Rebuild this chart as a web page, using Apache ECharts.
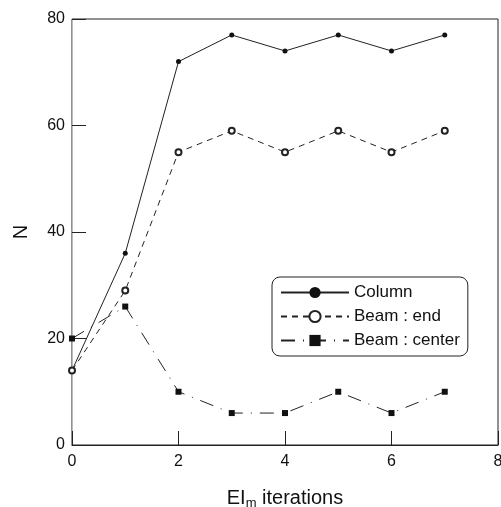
<!DOCTYPE html>
<html><head><meta charset="utf-8">
<script src="https://cdn.jsdelivr.net/npm/echarts@6/dist/echarts.min.js"></script>
<style>html,body{margin:0;padding:0;background:#fff}#c{width:501px;height:507px}</style>
</head><body><div id="c"></div>
<script>
const iterations = [0, 1, 2, 3, 4, 5, 6, 7];
const column = [14, 36, 72, 77, 74, 77, 74, 77];
const beamEnd = [14, 29, 55, 59, 55, 59, 55, 59];
const beamCenter = [20, 26, 10, 6, 6, 10, 6, 10];
const xTicks = [0, 2, 4, 6, 8];
const yTicks = [0, 20, 40, 60, 80];

const pair = (arr) => iterations.map((x, i) => [x, arr[i]]);
const font = 'Liberation Sans, Arial, sans-serif';
const chart = echarts.init(document.getElementById('c'));
chart.setOption({
  animation: false,
  backgroundColor: '#fff',
  grid: { left: 72, right: 3, top: 19, bottom: 62, outerBoundsMode: 'none', containLabel: false, show: true, borderColor: '#222', borderWidth: 1 },
  xAxis: {
    type: 'value', min: 0, max: 8, interval: 2,
    name: '{a|EI}{s|m}{a| iterations}', nameLocation: 'middle', nameGap: 42,
    nameTextStyle: { rich: { a: { fontFamily: font, fontSize: 20, color: '#111' }, s: { fontFamily: font, fontSize: 13, color: '#111', verticalAlign: 'bottom', padding: [10, 0, 0, 0] } } },
    axisLine: { lineStyle: { color: '#222' } },
    axisTick: { inside: true, length: 14, lineStyle: { color: '#222' } },
    splitLine: { show: false },
    axisLabel: { fontFamily: font, fontSize: 16, color: '#111', margin: 9, formatter: v => xTicks.includes(v) ? String(v) : '' }
  },
  yAxis: {
    type: 'value', min: 0, max: 80, interval: 20,
    name: 'N', nameLocation: 'middle', nameGap: 41, nameRotate: 90,
    nameTextStyle: { fontFamily: font, fontSize: 20, color: '#111' },
    axisLine: { show: true, lineStyle: { color: '#bbb' } },
    axisTick: { inside: true, length: 14, lineStyle: { color: '#222' } },
    splitLine: { show: false },
    axisLabel: { fontFamily: font, fontSize: 16, color: '#111', margin: 7, formatter: v => yTicks.includes(v) ? String(v) : '' }
  },
  legend: {
    orient: 'vertical', left: 272, top: 277, width: 199,
    backgroundColor: '#fff', borderColor: '#222', borderWidth: 1, borderRadius: 8,
    padding: [7, 8, 7, 8], itemGap: 7, itemWidth: 68, itemHeight: 14,
    textStyle: { fontFamily: font, fontSize: 17, color: '#111' },
    data: ['Column', 'Beam : end', 'Beam : center']
  },
  series: [
    { name: 'Column', type: 'line', data: pair(column), symbol: 'circle', symbolSize: 5,
      itemStyle: { color: '#111' }, lineStyle: { color: '#222', width: 1, type: 'solid' } },
    { name: 'Beam : end', type: 'line', data: pair(beamEnd), symbol: 'emptyCircle', symbolSize: 6,
      itemStyle: { color: '#222', borderWidth: 1 }, lineStyle: { color: '#222', width: 1, type: [6, 5] } },
    { name: 'Beam : center', type: 'line', data: pair(beamCenter), symbol: 'rect', symbolSize: 6,
      itemStyle: { color: '#111' }, lineStyle: { color: '#222', width: 1, type: [14, 8, 1, 8] } }
  ]
});
</script></body></html>
